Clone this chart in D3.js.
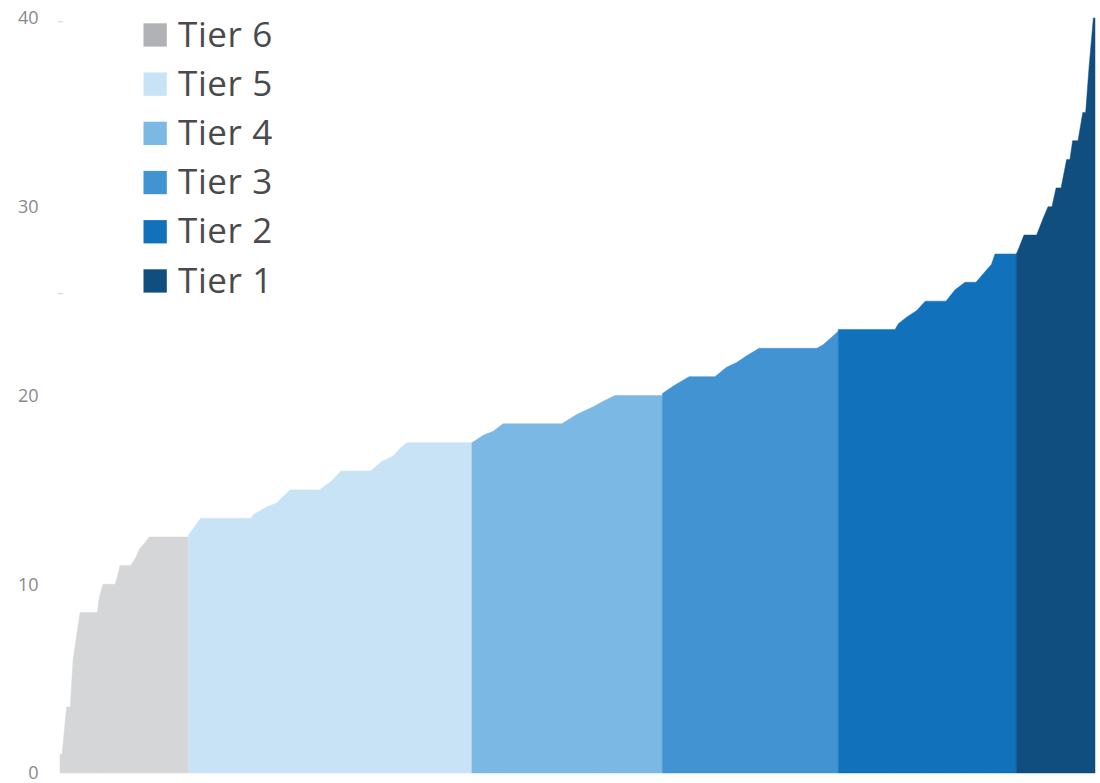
<!DOCTYPE html>
<html>
<head>
<meta charset="utf-8">
<script src="https://cdn.jsdelivr.net/npm/d3@7"></script>
<style>
  html, body { margin: 0; padding: 0; background: #ffffff; }
  svg { display: block; }
</style>
</head>
<body>
<svg id="chart" width="1100" height="783"></svg>
<script>
// ---- data ----
const tierNames = ["Tier 6", "Tier 5", "Tier 4", "Tier 3", "Tier 2", "Tier 1"];
const areaColors = ["#d5d6d8", "#c8e3f5", "#7bb8e3", "#4193d1", "#1172bb", "#0f4e7e"];
const legendColors = ["#b1b2b6", "#c8e3f5", "#7bb8e3", "#4193d1", "#1172bb", "#0f4e7e"];

const yTicks = [0, 10, 20, 30, 40];
const tickDashes = [39.8, 25.4];

const tier6Ranks  = [0, 1, 3.2, 5, 6.3, 9.7, 18, 19, 20.8, 26.6, 27.5, 29, 34.3, 36.5, 38.6, 41, 43, 62];
const tier6Values = [1.0, 1.0, 3.5, 3.5, 6.0, 8.5, 8.5, 9.3, 10, 10, 10.3, 11, 11, 11.4, 11.9, 12.2, 12.5, 12.5];

const tier5Ranks  = [62, 68, 92.3, 93.5, 100, 104.7, 107, 111.1, 125.3, 131.5, 135.7, 150.1, 155.4, 161, 164.3, 167.5, 199];
const tier5Values = [12.6, 13.5, 13.5, 13.7, 14.1, 14.3, 14.55, 15, 15, 15.5, 16, 16, 16.5, 16.8, 17.2, 17.5, 17.5];

const tier4Ranks  = [199, 204.5, 209.3, 214, 242.4, 249.6, 257.6, 262.5, 268.1, 291];
const tier4Values = [17.5, 17.9, 18.1, 18.5, 18.5, 19.0, 19.4, 19.7, 20, 20];

const tier3Ranks  = [291, 296.3, 303.9, 316.4, 322, 326.9, 331.7, 337.7, 365.7, 368.8, 376];
const tier3Values = [20.1, 20.5, 21, 21, 21.5, 21.75, 22.1, 22.5, 22.5, 22.7, 23.4];

const tier2Ranks  = [376, 403.4, 405, 409, 413.9, 418, 428, 432.4, 437.2, 442.5, 446, 450, 451.7, 462];
const tier2Values = [23.5, 23.5, 23.8, 24.15, 24.5, 25, 25, 25.6, 26, 26, 26.45, 26.95, 27.5, 27.5];

const tier1Ranks  = [462, 463, 465.7, 471.8, 475, 477.3, 479.2, 481.2, 483.6, 486.3, 487.9, 489.2, 491.8, 494.1, 495.5, 497.2, 498, 499.2, 500];
const tier1Values = [27.5, 27.75, 28.5, 28.5, 29.4, 30, 30, 31, 31, 32.5, 32.5, 33.5, 33.5, 35, 35, 37.5, 38.5, 40, 40];

const tierRanks  = [tier6Ranks, tier5Ranks, tier4Ranks, tier3Ranks, tier2Ranks, tier1Ranks];
const tierValues = [tier6Values, tier5Values, tier4Values, tier3Values, tier2Values, tier1Values];

// ---- layout ----
const svg = d3.select("#chart");
const x = d3.scaleLinear().domain([0, 500]).range([60, 1095]);
const y = d3.scaleLinear().domain([0, 40]).range([773, 18]);

const area = d3.area()
  .x(d => x(d[0]))
  .y0(y(0))
  .y1(d => y(d[1]))
  .curve(d3.curveLinear);

tierNames.forEach((name, i) => {
  const pts = tierRanks[i].map((r, j) => [r, tierValues[i][j]]);
  svg.append("path")
    .datum(pts)
    .attr("d", area)
    .attr("fill", areaColors[i])
    .attr("stroke", areaColors[i])
    .attr("stroke-width", 0.5);
});

// y axis labels
const fontFam = "'Open Sans', 'Noto Sans', sans-serif";
svg.append("g").selectAll("text")
  .data(yTicks)
  .join("text")
  .attr("x", 38.5)
  .attr("y", d => y(d))
  .attr("dy", "0.36em")
  .attr("text-anchor", "end")
  .attr("font-family", fontFam)
  .attr("font-size", 18)
  .attr("fill", "#8a8a8a")
  .text(d => d);

// faint tick dashes
svg.append("g").selectAll("line")
  .data(tickDashes)
  .join("line")
  .attr("x1", 58).attr("x2", 63)
  .attr("y1", d => y(d)).attr("y2", d => y(d))
  .attr("stroke", "#d8d8d8")
  .attr("stroke-width", 1.2);

// legend
const legend = svg.append("g");
tierNames.forEach((name, i) => {
  const cy = 35 + i * 49.2;
  legend.append("rect")
    .attr("x", 143.5).attr("y", cy - 11.7)
    .attr("width", 23.3).attr("height", 23.3)
    .attr("fill", legendColors[i]);
  legend.append("text")
    .attr("x", 178)
    .attr("y", cy + 11.5)
    .attr("font-family", fontFam)
    .attr("font-size", 35)
    .attr("letter-spacing", 0.6)
    .attr("fill", "#4a4a4c")
    .text(name);
});
</script>
</body>
</html>
